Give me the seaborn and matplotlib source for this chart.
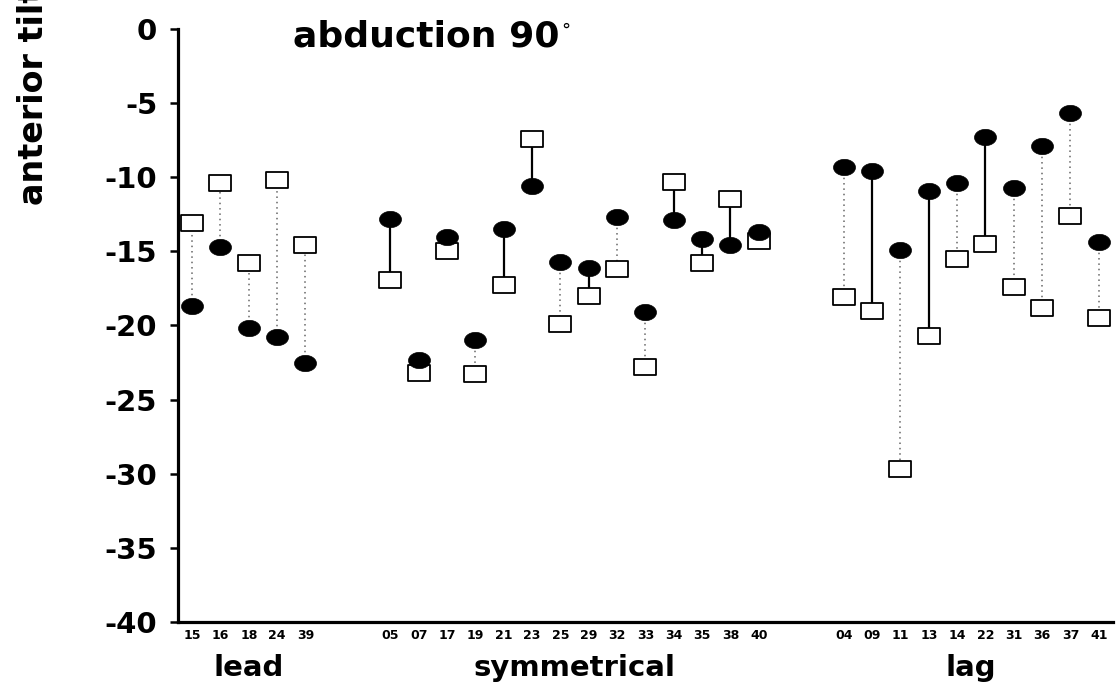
import numpy as np
import pandas as pd
import matplotlib
matplotlib.use("Agg")
import matplotlib.pyplot as plt
import seaborn as sns
from matplotlib.path import Path
from matplotlib.transforms import blended_transform_factory

# ---------------- data ----------------
groups = ["lead", "symmetrical", "lag"]

lead_ids = ["15", "16", "18", "24", "39"]
lead_filled = [-18.7, -14.7, -20.2, -20.8, -22.5]
lead_open = [-13.1, -10.4, -15.8, -10.2, -14.6]

sym_ids = ["05", "07", "17", "19", "21", "23", "25", "29", "32", "33", "34", "35", "38", "40"]
sym_filled = [-12.8, -22.3, -14.0, -21.0, -13.5, -10.6, -15.7, -16.1, -12.7, -19.1, -12.9, -14.2, -14.6, -13.7]
sym_open = [-16.9, -23.2, -15.0, -23.3, -17.3, -7.4, -19.9, -18.0, -16.2, -22.8, -10.3, -15.8, -11.5, -14.3]

lag_ids = ["04", "09", "11", "13", "14", "22", "31", "36", "37", "41"]
lag_filled = [-9.3, -9.6, -14.9, -10.9, -10.4, -7.3, -10.7, -7.9, -5.7, -14.4]
lag_open = [-18.1, -19.0, -29.7, -20.7, -15.5, -14.5, -17.4, -18.8, -12.6, -19.5]

# subjects whose connecting line is drawn solid in the original
solid_links = {"05", "21", "23", "29", "34", "35", "38", "09", "13", "22"}

yticks = [0, -5, -10, -15, -20, -25, -30, -35, -40]
title = "abduction 90"
ylabel = "anterior tilt"

# ---------------- build table ----------------
group_ids = [lead_ids, sym_ids, lag_ids]
group_filled = [lead_filled, sym_filled, lag_filled]
group_open = [lead_open, sym_open, lag_open]

rows = []
start = 0
group_centers = []
for g, ids, fv, ov in zip(groups, group_ids, group_filled, group_open):
    pos = [start + i for i in range(len(ids))]
    group_centers.append((pos[0] + pos[-1]) / 2)
    for p, sid, f, o in zip(pos, ids, fv, ov):
        rows.append(dict(group=g, subject=sid, pos=p, filled=f, open=o))
    start = pos[-1] + 3
df = pd.DataFrame(rows)

# ---------------- style ----------------
sns.set_theme(style="white")
plt.rcParams["font.family"] = ["DejaVu Sans"]
plt.rcParams["font.weight"] = "bold"
plt.rcParams["text.color"] = "black"
plt.rcParams["xtick.color"] = "black"
plt.rcParams["ytick.color"] = "black"
plt.rcParams["axes.labelcolor"] = "black"

fig = plt.figure(figsize=(11.18, 6.91), dpi=100)
ax = fig.add_axes([0.1592, 0.0999, 0.8363, 0.8582])

# custom marker shapes (wider than tall)
t = np.linspace(0, 2 * np.pi, 60)
ellipse = Path(np.c_[1.35 * np.cos(t), np.sin(t)], closed=True)
rect = Path([(-1.35, -1), (1.35, -1), (1.35, 1), (-1.35, 1), (-1.35, -1)], closed=True)

# connecting lines
for _, r in df.iterrows():
    if r["subject"] in solid_links:
        ax.plot([r["pos"], r["pos"]], [r["filled"], r["open"]], color="black",
                lw=1.6, zorder=1)
    else:
        ax.plot([r["pos"], r["pos"]], [r["filled"], r["open"]], color="0.4",
                lw=1.1, ls=(0, (1, 2.5)), zorder=1)

sns.scatterplot(data=df, x="pos", y="open", marker=rect, s=250, color="black",
                facecolor="white", edgecolor="black", linewidth=1.3, ax=ax,
                zorder=2, legend=False)
sns.scatterplot(data=df, x="pos", y="filled", marker=ellipse, s=250, color="black",
                edgecolor="black", linewidth=0.5, ax=ax, zorder=3, legend=False)

ax.set_xlim(-0.5, df["pos"].max() + 0.5)
ax.set_ylim(-40, 0)
ax.set_yticks(yticks)
ax.set_yticklabels([str(v) for v in yticks], fontsize=21, fontweight="bold",
                   color="black")
ax.set_xticks(df["pos"])
ax.set_xticklabels(df["subject"], fontsize=9, fontweight="bold", color="black")
ax.set_xlabel("")
ax.set_ylabel("")

for s in ["top", "right"]:
    ax.spines[s].set_visible(False)
for s in ["left", "bottom"]:
    ax.spines[s].set_linewidth(2.3)
    ax.spines[s].set_color("black")
ax.tick_params(axis="y", direction="out", length=6, width=1.8, pad=9, color="black",
               left=True)
ax.tick_params(axis="x", length=0, pad=5)
ax.grid(False)

trans = blended_transform_factory(ax.transData, ax.transAxes)
for g, c in zip(groups, group_centers):
    ax.text(c, -0.078, g, transform=trans, ha="center", va="center",
            fontsize=21, fontweight="bold", color="black")

tt = fig.text(0.262, 0.932, title, fontsize=26, fontweight="bold", ha="left",
              va="baseline", color="black")
ax.annotate("°", xy=(1, 1), xycoords=tt, xytext=(1, -1), textcoords="offset points",
            fontsize=13, fontweight="normal", ha="left", va="top", color="black")

fig.text(0.030, 0.703, ylabel, rotation=90, fontsize=24, fontweight="bold",
         ha="center", va="bottom", color="black")

fig.savefig("out.png", dpi=100, facecolor="white")
